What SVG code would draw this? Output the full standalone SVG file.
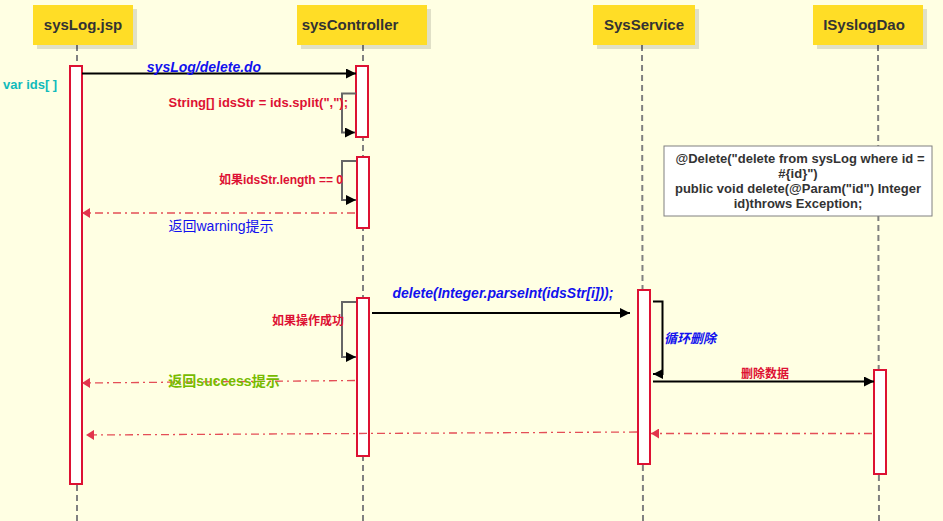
<svg xmlns="http://www.w3.org/2000/svg" width="943" height="521" viewBox="0 0 943 521">
<defs>
<style>
.hdr{fill:#FFDD26;}
.shd{fill:#000;opacity:0.12;}
.ht{font-family:"Liberation Sans",Arial,sans-serif;font-size:15px;font-weight:bold;fill:#333;text-anchor:middle;}
.life{stroke:#808080;stroke-width:2;stroke-dasharray:6,4;fill:none;}
.act{fill:#fff;stroke:#DD1133;stroke-width:2;}
.msg{stroke:#000;stroke-width:2;fill:none;}
.self{stroke:#666;stroke-width:2;fill:none;}
.ret{stroke:#E0303F;stroke-width:1.3;stroke-dasharray:8,4,2,4;fill:none;opacity:0.85;}
.t{font-family:"Liberation Sans",Arial,"Noto Sans CJK SC",sans-serif;font-weight:bold;}
.blue{fill:#1111EE;}
.red{fill:#DD1133;}
</style>
<marker id="ah" viewBox="0 0 10 10" refX="10" refY="5" markerWidth="10" markerHeight="10" markerUnits="userSpaceOnUse" orient="auto"><path d="M0,0 L10,5 L0,10 z" fill="#000"/></marker>
<marker id="ahr" viewBox="0 0 10 10" refX="10" refY="5" markerWidth="10" markerHeight="10" markerUnits="userSpaceOnUse" orient="auto"><path d="M2,0 L10,5 L2,10 z" fill="#DD1133"/></marker>
</defs>
<rect width="943" height="521" fill="#FFFFE3"/>

<g id="sysLog.jsp">
<line class="life" x1="77" y1="45" x2="77" y2="521"/>
<rect class="shd" x="37" y="9" width="100" height="40"/>
<rect class="hdr" x="33" y="5" width="100" height="40"/>
<text class="ht" x="83" y="30">sysLog.jsp</text>
<rect class="act" x="70" y="66" width="12" height="418"/>
</g>

<g id="sysController">
<line class="life" x1="363" y1="45" x2="363" y2="521"/>
<rect class="shd" x="301" y="9" width="130" height="40"/>
<rect class="hdr" x="297" y="5" width="130" height="40"/>
<text class="ht" x="350" y="30">sysController</text>
<rect class="act" x="356" y="66" width="12" height="71"/>
<rect class="act" x="357" y="157" width="12" height="71"/>
<rect class="act" x="357" y="298" width="12" height="158"/>
</g>

<g id="SysService">
<line class="life" x1="642" y1="45" x2="643" y2="521"/>
<rect class="shd" x="597" y="9" width="102" height="40"/>
<rect class="hdr" x="593" y="5" width="102" height="40"/>
<text class="ht" x="644" y="30">SysService</text>
<rect class="act" x="638" y="290" width="12" height="174"/>
</g>

<g id="ISyslogDao">
<line class="life" x1="878" y1="45" x2="879" y2="521"/>
<rect class="shd" x="817" y="9" width="110" height="40"/>
<rect class="hdr" x="813" y="5" width="110" height="40"/>
<text class="ht" x="864" y="30">ISyslogDao</text>
<rect class="act" x="874" y="370" width="12" height="104"/>
</g>

<g id="note">
<rect x="664" y="146" width="268" height="70" fill="#fff" stroke="#808080" stroke-width="1"/>
<g class="t" font-size="13" fill="#333" text-anchor="middle">
<text x="800" y="163">@Delete("delete from sysLog where id =</text>
<text x="798" y="178">#{id}")</text>
<text x="798" y="193">public void delete(@Param("id") Integer</text>
<text x="798" y="208">id)throws Exception;</text>
</g>
</g>

<g id="connectors">
<line class="msg" x1="82" y1="73.5" x2="356" y2="73.5" marker-end="url(#ah)"/>
<polyline class="self" points="356,93.5 342,93.5 342,132.5 355,132.5" marker-end="url(#ah)"/>
<polyline class="self" points="356,161 342,161 342,200 356,200" marker-end="url(#ah)"/>
<line class="ret" x1="355" y1="213" x2="82" y2="213" marker-end="url(#ahr)"/>
<polyline class="self" points="356,302 342,302 342,357 356,357" marker-end="url(#ah)"/>
<line class="ret" x1="355" y1="380.5" x2="82" y2="383" marker-end="url(#ahr)"/>
<line class="msg" x1="372" y1="313" x2="630" y2="313" marker-end="url(#ah)"/>
<polyline class="msg" points="653,301.5 662.5,301.5 662.5,374 653,374" marker-end="url(#ah)"/>
<line class="msg" x1="653" y1="381.5" x2="874" y2="381.5" marker-end="url(#ah)"/>
<line class="ret" x1="872" y1="433.5" x2="651" y2="433.5" marker-end="url(#ahr)"/>
<line class="ret" x1="637" y1="432" x2="86" y2="435" marker-end="url(#ahr)"/>
</g>

<g id="labels">
<text class="t blue" x="204" y="72" font-size="14" font-style="italic" text-anchor="middle">sysLog/delete.do</text>
<text class="t" x="3" y="89" font-size="13" fill="#11BBBB">var ids[ ]</text>
<text class="t red" x="348" y="107" font-size="13" text-anchor="end">String[] idsStr = ids.split(",");</text>
<text class="t red" x="343" y="184" font-size="12" text-anchor="end">如果idsStr.length == 0</text>
<text x="221" y="231" font-size="14" fill="#1111EE" text-anchor="middle" font-family="'Liberation Sans',Arial,'Noto Sans CJK SC',sans-serif">返回warning提示</text>
<text class="t red" x="344" y="325" font-size="12" text-anchor="end">如果操作成功</text>
<text class="t" x="224" y="386" font-size="14" fill="#77BB00" text-anchor="middle">返回success提示</text>
<text class="t blue" x="503" y="298" font-size="14" font-style="italic" text-anchor="middle">delete(Integer.parseInt(idsStr[i]));</text>
<text class="t blue" x="664" y="343" font-size="13" font-style="italic">循环删除</text>
<text class="t red" x="765" y="378" font-size="12" text-anchor="middle">删除数据</text>
</g>
</svg>
